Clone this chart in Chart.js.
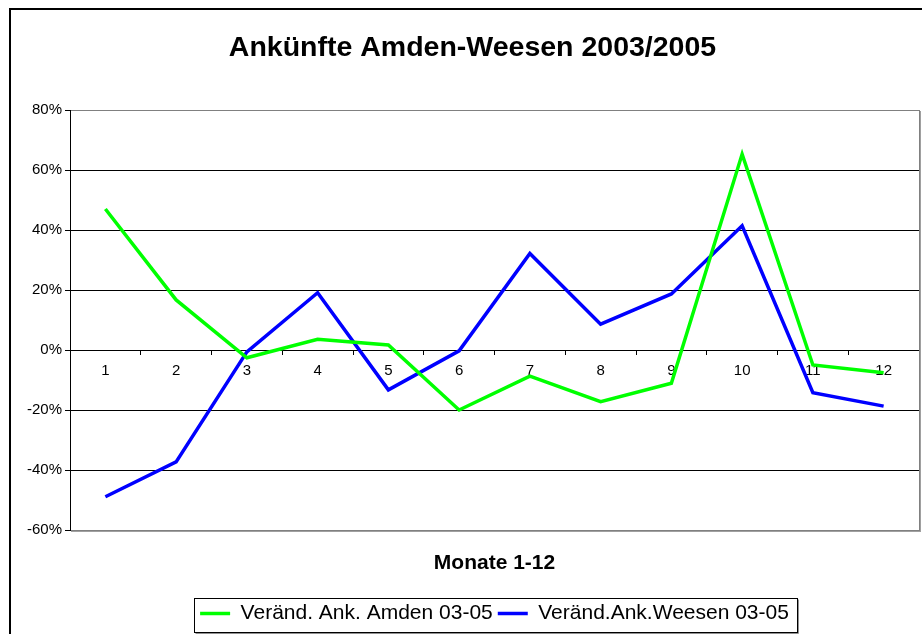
<!DOCTYPE html>
<html>
<head>
<meta charset="utf-8">
<script src="https://cdn.jsdelivr.net/npm/chart.js@4/dist/chart.umd.min.js"></script>
<style>
  html, body { margin: 0; padding: 0; background: #fff; }
  #wrap { width: 922px; height: 634px; position: relative; }
</style>
</head>
<body>
<div id="wrap"><canvas id="c" width="922" height="634"></canvas></div>
<script>
// ---- data ----
const months = ['1','2','3','4','5','6','7','8','9','10','11','12'];
const amdenChange = [47, 16.7, -2.6, 3.6, 1.7, -20, -8.7, -17.2, -11.1, 65.3, -5, -7.6];
const weesenChange = [-48.9, -37.3, -0.6, 19.1, -13.3, -0.3, 32.2, 8.6, 18.7, 41.4, -14.2, -18.7];
const seriesNames = ['Veränd. Ank. Amden 03-05', 'Veränd.Ank.Weesen 03-05'];
const chartTitle = 'Ankünfte Amden-Weesen 2003/2005';
const xTitle = 'Monate 1-12';
const yMin = -60, yMax = 80, yStep = 20;

const FONT = "'Liberation Sans', Arial, Helvetica, sans-serif";

const framePlugin = {
  id: 'frame',
  beforeDraw(chart) {
    const ctx = chart.ctx;
    ctx.save();
    ctx.fillStyle = '#fff';
    ctx.fillRect(0, 0, chart.width, chart.height);
    ctx.restore();
  },
  afterDraw(chart) {
    const ctx = chart.ctx;
    const a = chart.chartArea;
    ctx.save();
    // outer chart border (left and top visible)
    ctx.fillStyle = '#000';
    ctx.fillRect(9, 8, 2, chart.height - 8);
    ctx.fillRect(9, 8, chart.width - 9, 2);
    // plot area frame right & bottom (gray with slight shadow)
    ctx.strokeStyle = '#808080';
    ctx.lineWidth = 1;
    ctx.beginPath();
    ctx.moveTo(Math.round(a.right) + 0.5, Math.round(a.top));
    ctx.lineTo(Math.round(a.right) + 0.5, Math.round(a.bottom) + 1);
    ctx.stroke();
    ctx.strokeStyle = '#a0a0a0';
    ctx.beginPath();
    ctx.moveTo(Math.round(a.right) + 1.5, Math.round(a.top) + 1);
    ctx.lineTo(Math.round(a.right) + 1.5, Math.round(a.bottom) + 2);
    ctx.moveTo(Math.round(a.left) + 1, Math.round(a.bottom) + 1.5);
    ctx.lineTo(Math.round(a.right) + 2, Math.round(a.bottom) + 1.5);
    ctx.stroke();
    // legend frame
    const lg = chart.legend;
    if (lg && lg.legendHitBoxes && lg.legendHitBoxes.length) {
      const hb = lg.legendHitBoxes;
      const first = hb[0], last = hb[hb.length - 1];
      const mid = first.top + first.height / 2;
      const x0 = Math.round(first.left - 6) + 0.5;
      const x1 = Math.round(last.left + last.width + 8) + 0.5;
      const y0 = Math.round(mid - 15.5) + 0.5;
      const y1 = Math.round(mid + 18.5) + 0.5;
      ctx.strokeStyle = '#000';
      ctx.lineWidth = 1;
      ctx.strokeRect(x0, y0, x1 - x0, y1 - y0);
      ctx.strokeStyle = '#909090';
      ctx.beginPath();
      ctx.moveTo(x1 + 1, y0 + 1);
      ctx.lineTo(x1 + 1, y1 + 1);
      ctx.lineTo(x0 + 1, y1 + 1);
      ctx.stroke();
    }
    ctx.restore();
  }
};

new Chart(document.getElementById('c'), {
  type: 'line',
  data: {
    labels: months,
    datasets: [
      {
        label: seriesNames[0],
        data: amdenChange,
        borderColor: '#00FF00',
        backgroundColor: '#00FF00',
        borderWidth: 3.5,
        pointRadius: 0,
        pointHoverRadius: 0,
        tension: 0,
        fill: false,
        borderJoinStyle: 'miter'
      },
      {
        label: seriesNames[1],
        data: weesenChange,
        borderColor: '#0000FF',
        backgroundColor: '#0000FF',
        borderWidth: 3.5,
        pointRadius: 0,
        pointHoverRadius: 0,
        tension: 0,
        fill: false,
        borderJoinStyle: 'miter'
      }
    ]
  },
  options: {
    responsive: false,
    animation: false,
    devicePixelRatio: 1,
    layout: { padding: { top: 10, left: 26, right: 3, bottom: 0 } },
    scales: {
      x: {
        type: 'category',
        offset: true,
        position: { y: 0 },
        grid: {
          display: true,
          drawOnChartArea: false,
          drawTicks: true,
          tickLength: 4,
          offset: true,
          color: '#000',
          tickColor: '#000'
        },
        border: { display: true, color: '#000', width: 1 },
        ticks: {
          color: '#000',
          font: { family: FONT, size: 15 },
          padding: 8,
          maxRotation: 0,
          autoSkip: false
        }
      },
      y: {
        min: yMin,
        max: yMax,
        ticks: {
          stepSize: yStep,
          callback: v => v + '%',
          color: '#000',
          font: { family: FONT, size: 15 },
          padding: 3
        },
        grid: {
          color: c => (c.tick && (c.tick.value === yMax || c.tick.value === yMin)) ? '#808080' : '#000',
          tickColor: '#000',
          tickLength: 5,
          lineWidth: 1
        },
        border: { display: true, color: '#000', width: 1 },
        afterFit: s => { s.width = 44; }
      }
    },
    plugins: {
      title: {
        display: true,
        text: chartTitle,
        color: '#000',
        font: { family: FONT, size: 28.5, weight: 'bold' },
        padding: { top: 21, bottom: 44.8 }
      },
      subtitle: {
        display: true,
        position: 'bottom',
        fullSize: false,
        weight: 500,
        text: xTitle,
        color: '#000',
        font: { family: FONT, size: 21, weight: 'bold' },
        padding: { top: 20.4, bottom: 22.4 }
      },
      legend: {
        display: true,
        position: 'bottom',
        fullSize: false,
        weight: 1000,
        labels: {
          color: '#000',
          font: { family: FONT, size: 21 },
          usePointStyle: true,
          pointStyle: 'line',
          pointStyleWidth: 30,
          padding: 5
        }
      },
      tooltip: { enabled: false }
    }
  },
  plugins: [framePlugin]
});
</script>
</body>
</html>
